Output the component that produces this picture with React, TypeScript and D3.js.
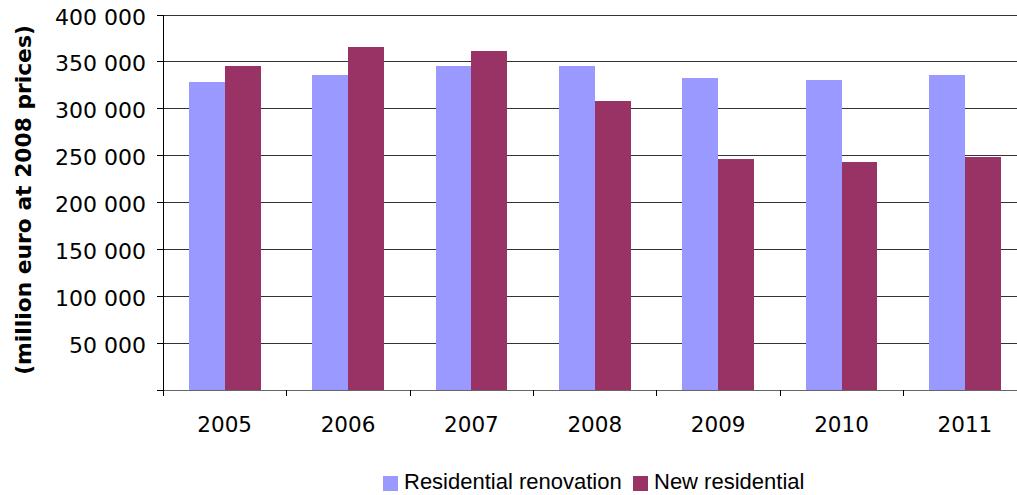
import React from "react";
import * as d3 from "d3";

const years = ["2005", "2006", "2007", "2008", "2009", "2010", "2011"];
const seriesNames = ["Residential renovation", "New residential"];
const renovation = [328000, 335500, 345000, 345000, 332300, 330100, 335500];
const newResidential = [345000, 365300, 361000, 307700, 245900, 242700, 248000];
const yTicks = [50000, 100000, 150000, 200000, 250000, 300000, 350000, 400000];
const colors = ["#9999FF", "#993366"];

const W = 1017;
const H = 495;
const left = 163;
const right = 1026.6;
const top = 14.5;
const bottom = 389.5;

export default function App() {
  const x0 = d3.scaleBand<string>().domain(years).range([left, right]).paddingInner(0).paddingOuter(0);
  const x1 = d3
    .scaleBand<string>()
    .domain(seriesNames)
    .range([0, x0.bandwidth()])
    .paddingInner(0)
    .paddingOuter(0.72);
  const y = d3.scaleLinear().domain([0, 400000]).range([bottom, top]);
  const fmt = (v: number) => d3.format(",")(v).replace(/,/g, " ");
  const data = [renovation, newResidential];
  const boundaries = years.map((yr) => x0(yr) as number).concat([right]);

  return (
    <svg
      width={W}
      height={H}
      style={{ position: "absolute", left: 0, top: 0, background: "#fff" }}
      shapeRendering="crispEdges"
    >
      <rect x={0} y={0} width={W} height={H} fill="#fff" />
      {/* gridlines */}
      {yTicks.map((t) => (
        <line key={t} x1={left} x2={right} y1={Math.round(y(t)) + 0.5} y2={Math.round(y(t)) + 0.5} stroke="#333" strokeWidth={1} />
      ))}
      {/* bars */}
      {data.map((vals, si) =>
        years.map((yr, i) => (
          <rect
            key={`${si}-${yr}`}
            x={(x0(yr) as number) + (x1(seriesNames[si]) as number)}
            y={y(vals[i])}
            width={x1.bandwidth()}
            height={y(0) - y(vals[i])}
            fill={colors[si]}
          />
        ))
      )}
      {/* x axis */}
      <line x1={left} x2={right} y1={Math.round(bottom) + 0.5} y2={Math.round(bottom) + 0.5} stroke="#666" strokeWidth={1} />
      {boundaries.map((b, i) => (
        <line key={i} x1={Math.round(b) + 0.5} x2={Math.round(b) + 0.5} y1={bottom} y2={396} stroke="#000" />
      ))}
      {/* y axis */}
      <line x1={left + 0.5} x2={left + 0.5} y1={top} y2={396} stroke="#000" />
      {[0, ...yTicks].map((t) => (
        <line key={t} x1={157} x2={left} y1={Math.round(y(t)) + 0.5} y2={Math.round(y(t)) + 0.5} stroke="#000" />
      ))}
      {yTicks.map((t) => (
        <text
          key={t}
          x={146}
          y={y(t) + 10}
          textAnchor="end"
          fontFamily="'DejaVu Sans', Verdana, sans-serif"
          fontSize={22}
          fill="#000"
        >
          {fmt(t)}
        </text>
      ))}
      {years.map((yr) => (
        <text
          key={yr}
          x={(x0(yr) as number) + x0.bandwidth() / 2}
          y={432}
          textAnchor="middle"
          fontFamily="'DejaVu Sans', Verdana, sans-serif"
          fontSize={21.5}
          fill="#000"
        >
          {yr}
        </text>
      ))}
      {/* y title */}
      <text
        transform={`translate(31,200) rotate(-90)`}
        textAnchor="middle"
        fontFamily="'DejaVu Sans', Verdana, sans-serif"
        fontWeight="bold"
        fontSize={21.8}
        fill="#000"
      >
        (million euro at 2008 prices)
      </text>
      {/* legend */}
      <rect x={383} y={476} width={15} height={15} fill={colors[0]} />
      <text x={404} y={489} fontFamily="'Liberation Sans', Arial, sans-serif" fontSize={22} fill="#000">
        {seriesNames[0]}
      </text>
      <rect x={633} y={476} width={15} height={15} fill={colors[1]} />
      <text x={654} y={489} fontFamily="'Liberation Sans', Arial, sans-serif" fontSize={22} fill="#000">
        {seriesNames[1]}
      </text>
    </svg>
  );
}
